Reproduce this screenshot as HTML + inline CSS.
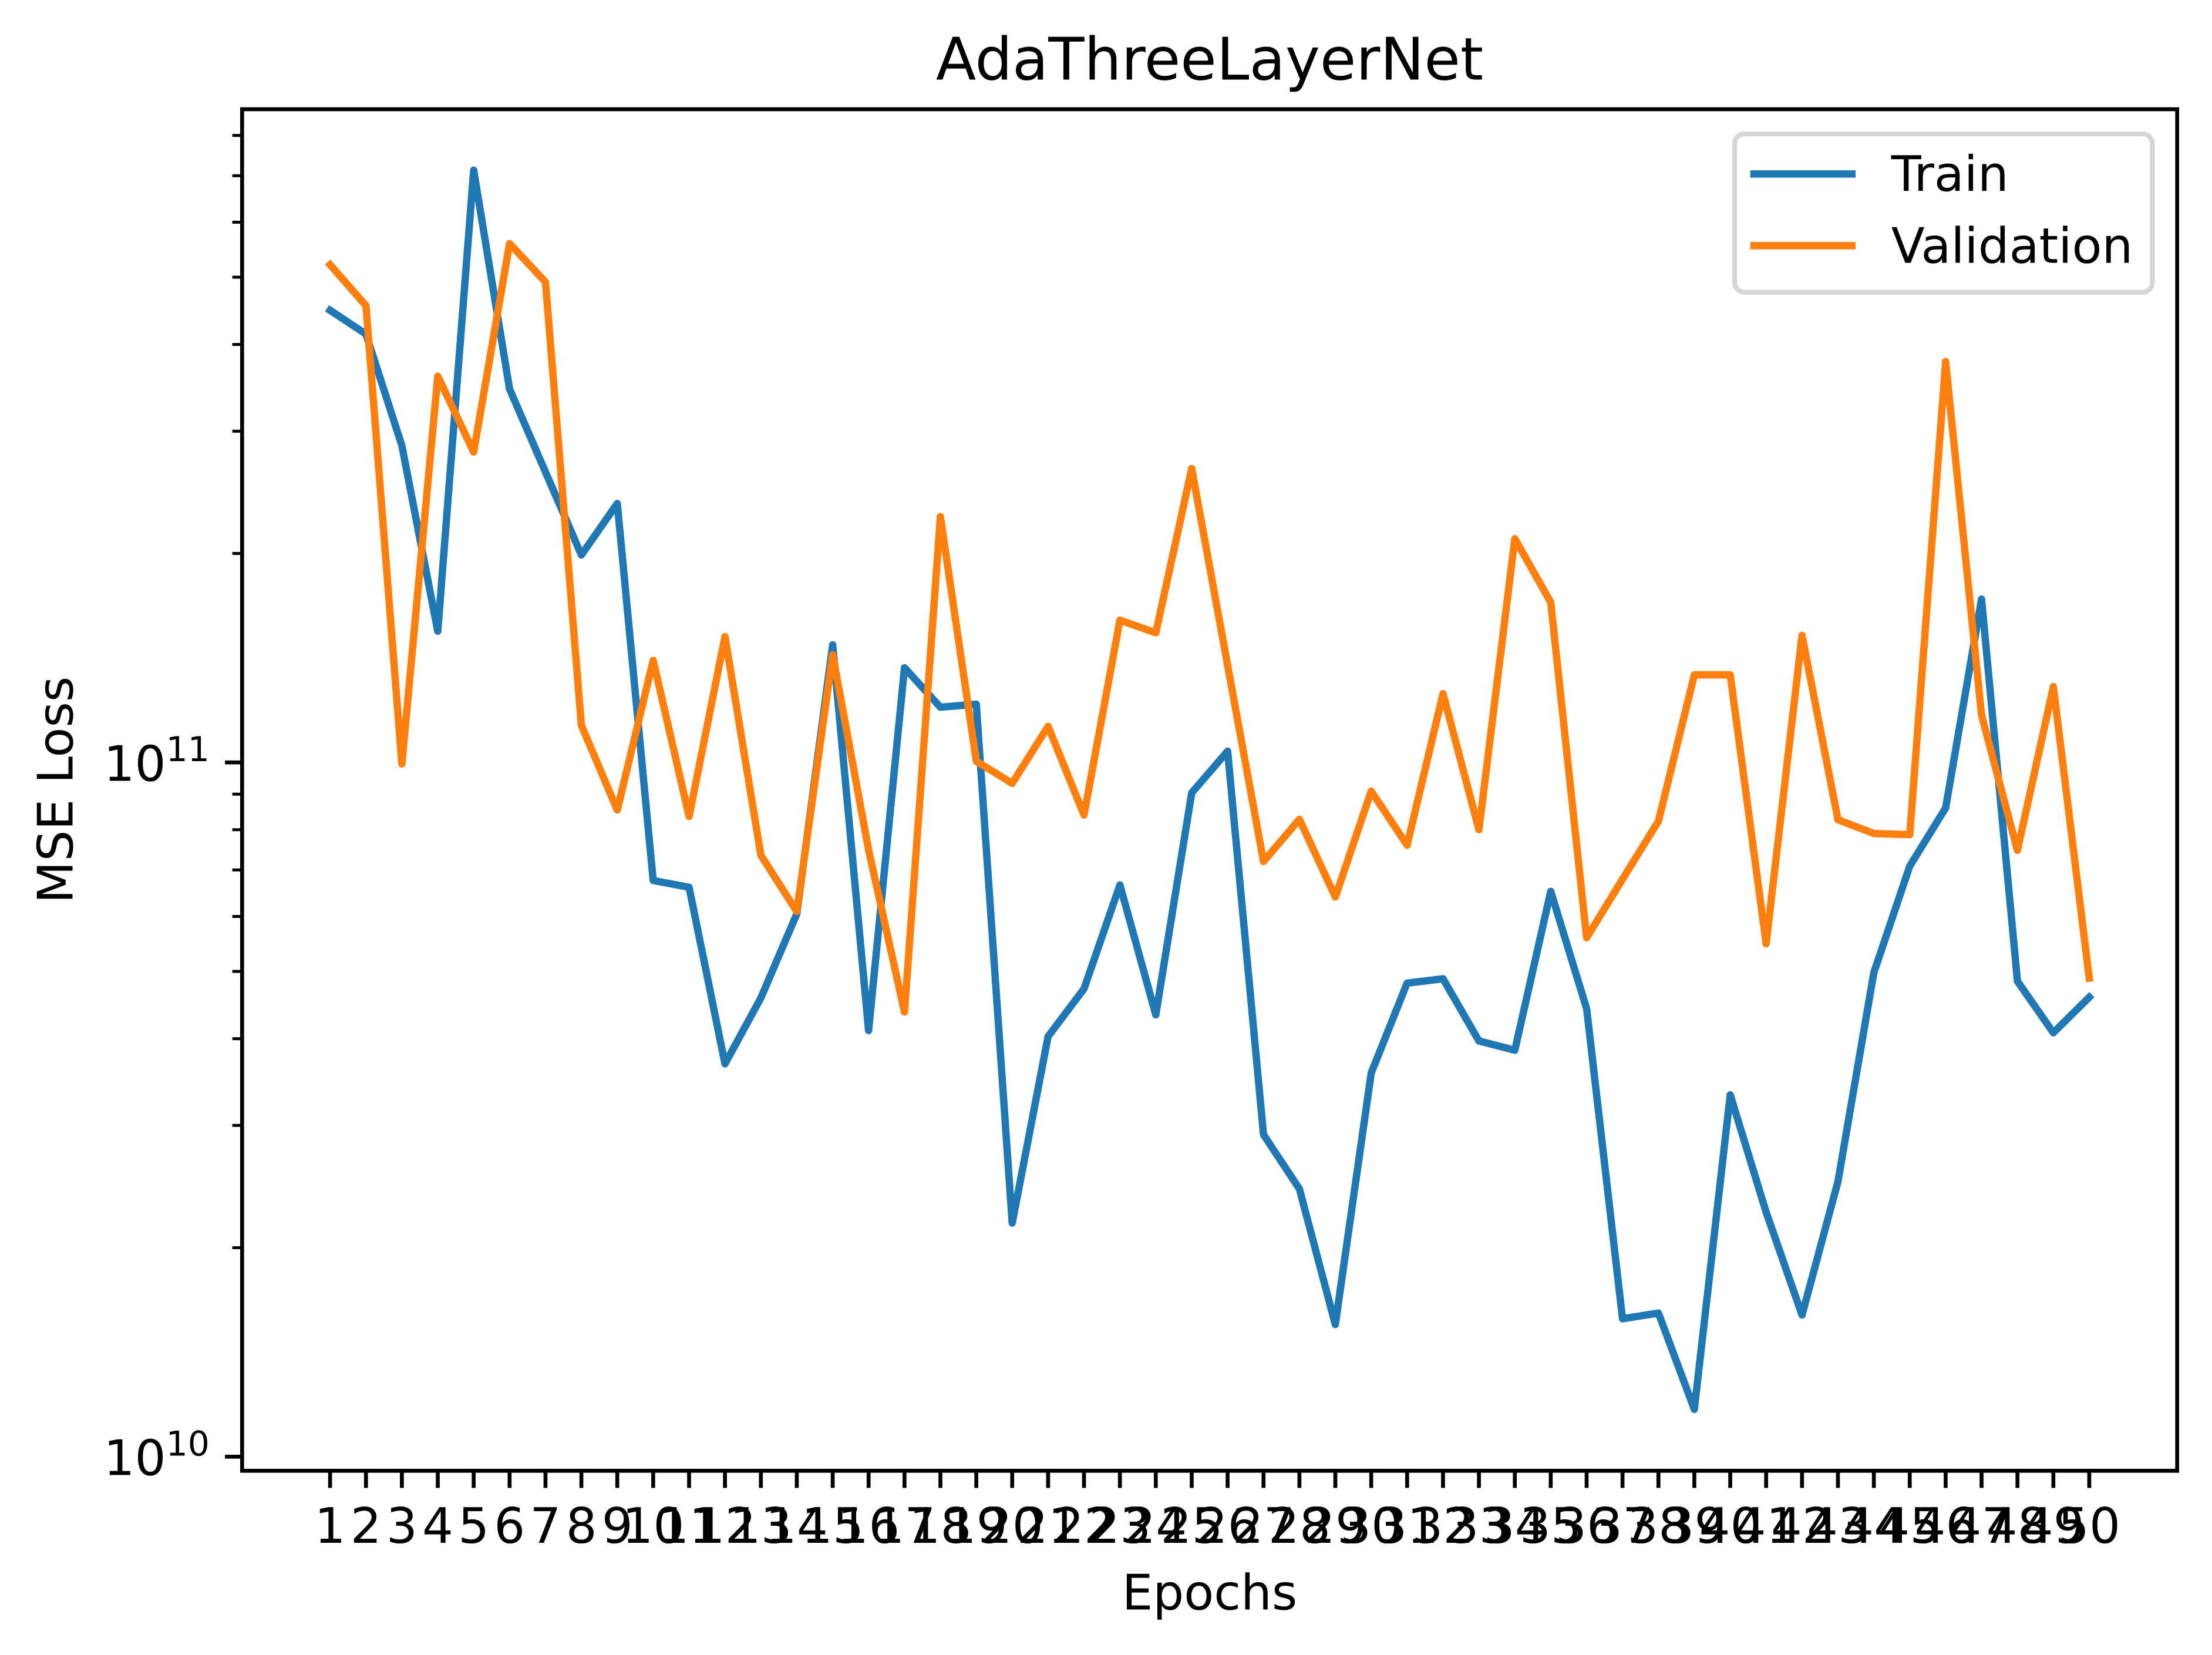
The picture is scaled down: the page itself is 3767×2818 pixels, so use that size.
<!DOCTYPE html>
<html lang="en">
<head>
<meta charset="utf-8">
<title>AdaThreeLayerNet</title>
<style>
  html, body { margin: 0; padding: 0; background: #ffffff; }
  svg { display: block; }
  text { font-family: "DejaVu Sans", "Liberation Sans", sans-serif; fill: #000000; text-rendering: geometricPrecision; }
</style>
</head>
<body>
<svg id="chart" xmlns="http://www.w3.org/2000/svg" width="3767" height="2818" viewBox="0 0 3767 2818">
  <rect x="0" y="0" width="3767" height="2818" fill="#ffffff"/>
  <g id="series-layer"></g>
  <g id="tick-layer"></g>
  <rect x="412.3" y="186" width="3295.4" height="2318.3" fill="none" stroke="#000000" stroke-width="6.67"/>
  <text x="2060" y="135.7" font-size="100" text-anchor="middle">AdaThreeLayerNet</text>
  <text x="2060" y="2740.7" font-size="83.33" text-anchor="middle">Epochs</text>
  <text transform="translate(123.3 1345) rotate(-90)" font-size="83.33" text-anchor="middle">MSE Loss</text>
  <g>
    <rect x="2954" y="228" width="711.5" height="269.6" rx="16.7" ry="16.7" fill="#ffffff" stroke="#d6d6d6" stroke-width="8.33"/>
    <line x1="2980.7" y1="296.3" x2="3160" y2="296.3" stroke="#1f77b4" stroke-width="12.5"/>
    <text x="3220.8" y="325" font-size="83.33">Train</text>
    <line x1="2980.7" y1="418.4" x2="3160" y2="418.4" stroke="#ff7f0e" stroke-width="12.5"/>
    <text x="3220.8" y="447.7" font-size="83.33">Validation</text>
  </g>
</svg>
<script>
const epochs = [1,2,3,4,5,6,7,8,9,10,11,12,13,14,15,16,17,18,19,20,21,22,23,24,25,26,27,28,29,30,31,32,33,34,35,36,37,38,39,40,41,42,43,44,45,46,47,48,49,50];
const lossUnit = 1e9;
const trainLoss = [448,414,286,154.5,713,345,262,199,236,67.6,66.1,36.8,45.8,60.5,147.7,41.1,136.9,120.1,121.3,21.7,40.3,47.2,66.6,43.3,90.4,103.8,29.1,24.3,15.5,35.7,48.1,48.8,39.7,38.5,65.2,44.2,15.8,16.1,11.7,33.2,22.5,16.0,24.9,49.8,70.9,86.0,171.9,48.4,40.8,45.9];
const validationLoss = [521,455,99.5,360,280,559,492,113.1,85.4,140.3,83.6,151.8,73.5,61.0,142.9,74.8,43.7,226,100.4,93.3,112.7,84.0,160.3,153.7,265,138.0,72.0,82.8,64.0,90.9,76.0,125.6,80.0,210,170.1,55.9,67.9,82.3,133.7,133.7,54.8,152.4,82.7,79.0,78.7,378,117.0,74.7,128.6,48.9];
const yMajorTicks = [1e10, 1e11];
const yMajorExponents = ["10", "11"];
const yMinorTicks = [2e10,3e10,4e10,5e10,6e10,7e10,8e10,9e10,2e11,3e11,4e11,5e11,6e11,7e11,8e11];

const SVG_NS = "http://www.w3.org/2000/svg";
const axisBottom = 2504.3;
const axisLeft = 412.3;

function xScale(epoch) {
  return 562.1 + (epoch - 1) * 61.14;
}
function yScale(value) {
  return 1298.2 - (Math.log10(value) - 11) * 1182.1;
}
function make(tag, attrs, parent) {
  const el = document.createElementNS(SVG_NS, tag);
  Object.keys(attrs).forEach(function (k) { el.setAttribute(k, attrs[k]); });
  parent.appendChild(el);
  return el;
}
function seriesPath(values) {
  return values.map(function (v, i) {
    return (i === 0 ? "M" : "L") + xScale(epochs[i]).toFixed(2) + " " + yScale(v * lossUnit).toFixed(2);
  }).join(" ");
}

const seriesLayer = document.getElementById("series-layer");
const tickLayer = document.getElementById("tick-layer");
const seriesStyle = { fill: "none", "stroke-width": 12.5, "stroke-linejoin": "round", "stroke-linecap": "square" };

const trainLine = make("path", Object.assign({ d: seriesPath(trainLoss), stroke: "#1f77b4" }, seriesStyle), seriesLayer);



const validationLine = make("path", Object.assign({ d: seriesPath(validationLoss), stroke: "#ff7f0e" }, seriesStyle), seriesLayer);



epochs.forEach(function (epoch) {
  const x = xScale(epoch);
  const tick = make("line", { x1: x, x2: x, y1: axisBottom, y2: axisBottom + 29.2, stroke: "#000000", "stroke-width": 6.67 }, tickLayer);
  
  
  const label = make("text", { x: x, y: 2627, "font-size": 83.33, "text-anchor": "middle" }, tickLayer);
  label.textContent = String(epoch);
  
  
});

yMinorTicks.forEach(function (value) {
  const y = yScale(value);
  const tick = make("line", { x1: axisLeft, x2: axisLeft - 16.67, y1: y, y2: y, stroke: "#000000", "stroke-width": 5 }, tickLayer);
  
  
});

yMajorTicks.forEach(function (value, i) {
  const y = yScale(value);
  const tick = make("line", { x1: axisLeft, x2: axisLeft - 29.2, y1: y, y2: y, stroke: "#000000", "stroke-width": 6.67 }, tickLayer);
  
  
  const label = make("text", { y: y + 31.3, "font-size": 83.33 }, tickLayer);
  
  
  const base = make("tspan", { x: 176.5 }, label);
  base.textContent = "10";
  const power = make("tspan", { x: 282.6, y: y - 2, "font-size": 58.33 }, label);
  power.textContent = yMajorExponents[i];
});
</script>
</body>
</html>
